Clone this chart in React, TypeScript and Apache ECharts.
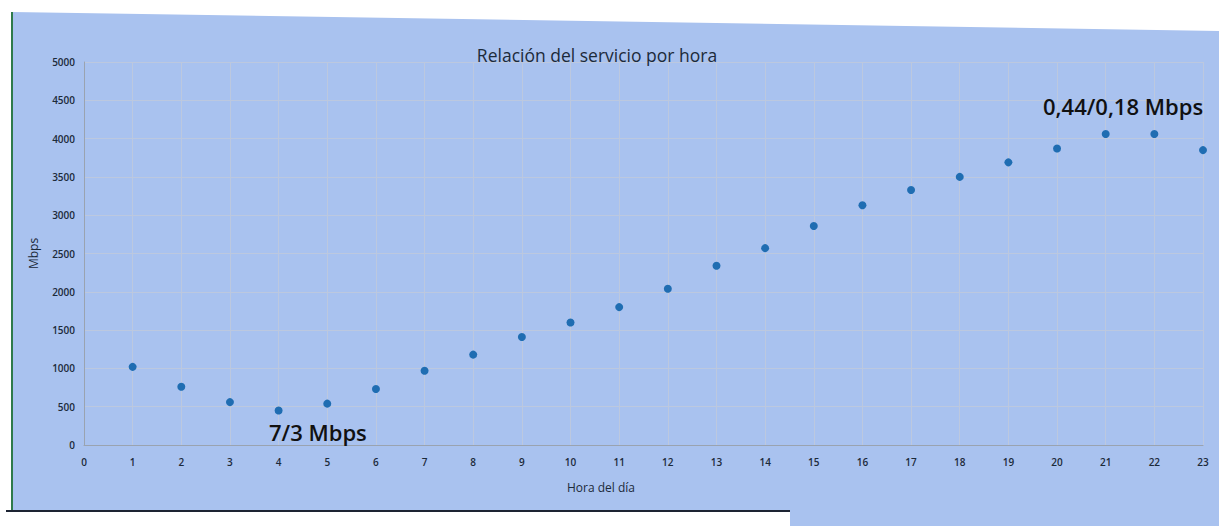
import React, { useEffect, useRef } from "react";
import * as echarts from "echarts";

const hours = [1, 2, 3, 4, 5, 6, 7, 8, 9, 10, 11, 12, 13, 14, 15, 16, 17, 18, 19, 20, 21, 22, 23];
const mbps = [1020, 760, 560, 450, 540, 730, 970, 1180, 1410, 1600, 1800, 2040, 2340, 2570, 2860, 3130, 3330, 3500, 3690, 3870, 4060, 4060, 3850];

const titleText = "Relación del servicio por hora";
const yName = "Mbps";
const xName = "Hora del día";
const noteLow = "7/3 Mbps";
const noteHigh = "0,44/0,18 Mbps";

export default function App() {
  const ref = useRef<HTMLDivElement>(null);
  useEffect(() => {
    document.body.style.margin = "0";
    const chart = echarts.init(ref.current!, null, { renderer: "svg" });
    const font = "Open Sans";
    chart.setOption({
      animation: false,
      backgroundColor: "#ffffff",
      textStyle: { fontFamily: font },
      graphic: [
        {
          type: "polygon",
          z: -10,
          shape: {
            points: [
              [12, 12],
              [1219, 31],
              [1219, 526],
              [790, 526],
              [790, 511],
              [12, 511],
            ],
          },
          style: { fill: "#a9c2ef" },
          silent: true,
        },
        {
          type: "line",
          z: -9,
          shape: { x1: 12, y1: 12, x2: 12, y2: 511 },
          style: { stroke: "#2f7a4a", lineWidth: 2 },
        },
        {
          type: "line",
          z: -9,
          shape: { x1: 6, y1: 511, x2: 790, y2: 511 },
          style: { stroke: "#1d2433", lineWidth: 2 },
        },
        {
          type: "text",
          z: 100,
          left: 269,
          top: 421,
          style: { text: noteLow, fontSize: 22, fontFamily: font, fontWeight: 600, fill: "#111111" },
        },
        {
          type: "text",
          z: 100,
          left: 1043,
          top: 95,
          style: { text: noteHigh, fontSize: 22, fontFamily: font, fontWeight: 600, fill: "#111111" },
        },
        {
          type: "text",
          z: 100,
          left: 567,
          top: 481,
          style: { text: xName, fontSize: 12, fontFamily: font, fill: "#1c2a3a" },
        },
      ],
      title: {
        text: titleText,
        left: 592,
        textAlign: "center",
        top: 41,
        textStyle: { fontSize: 17.5, fontWeight: "normal", color: "#1c2a3a", fontFamily: font },
      },
      grid: { left: 84, right: 16, top: 62, bottom: 81 },
      xAxis: {
        type: "value",
        min: 0,
        max: 23,
        interval: 1,
        axisLine: { show: true, lineStyle: { color: "#9aa3b0", width: 1 } },
        axisTick: { show: false },
        axisLabel: { fontSize: 10, fontWeight: 600, color: "#1c2a3a", margin: 12 },
        splitLine: { show: true, lineStyle: { color: "#bcc8df", width: 1 } },
      },
      yAxis: {
        type: "value",
        min: 0,
        max: 5000,
        interval: 500,
        name: yName,
        nameLocation: "middle",
        nameGap: 45,
        nameTextStyle: { fontSize: 12, color: "#1c2a3a" },
        axisLine: { show: true, lineStyle: { color: "#9aa3b0", width: 1 } },
        axisTick: { show: false },
        axisLabel: {
          fontSize: 10,
          fontWeight: 600,
          color: "#1c2a3a",
          margin: 9,
          formatter: (v: number) => String(v),
        },
        splitLine: { show: true, lineStyle: { color: "#bcc8df", width: 1 } },
      },
      series: [
        {
          type: "scatter",
          data: hours.map((h, i) => [h, mbps[i]]),
          symbol: "circle",
          symbolSize: 8,
          itemStyle: { color: "#1f6db2", opacity: 1 },
        },
      ],
    });
    return () => chart.dispose();
  }, []);
  return <div ref={ref} style={{ width: 1219, height: 526 }} />;
}
